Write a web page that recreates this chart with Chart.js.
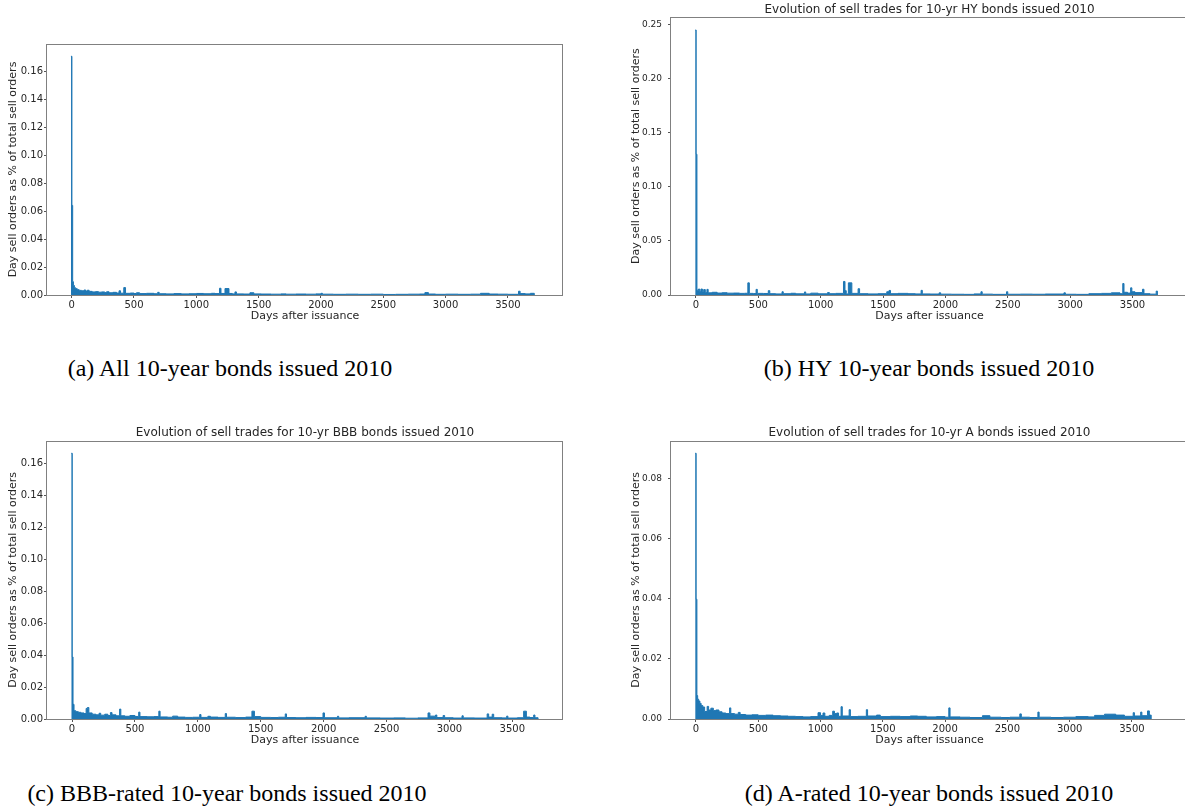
<!DOCTYPE html>
<html>
<head>
<meta charset="utf-8">
<title>Evolution of sell trades, 10-year bonds issued 2010</title>
<script src="https://cdn.jsdelivr.net/npm/chart.js@4/dist/chart.umd.min.js"></script>
<style>
  html, body { margin: 0; padding: 0; background: #fff; overflow: hidden; }
  #page { position: relative; width: 1185px; height: 812px; overflow: hidden; }
  canvas { position: absolute; }
  .caption {
    position: absolute; width: 500px; text-align: center;
    font-family: "Liberation Serif", "Times New Roman", serif; font-size: 24px; color: #000;
  }
</style>
</head>
<body>
<div id="page">
  <canvas id="chartAll" width="610" height="330" style="left:0px;top:0px"></canvas>
  <canvas id="chartHY" width="603" height="330" style="left:628px;top:0px"></canvas>
  <canvas id="chartBBB" width="610" height="334" style="left:0px;top:420px"></canvas>
  <canvas id="chartA" width="603" height="334" style="left:628px;top:420px"></canvas>

  <div class="caption" style="left:-20px;top:355px">(a) All 10-year bonds issued 2010</div>
  <div class="caption" style="left:679px;top:355px">(b) HY 10-year bonds issued 2010</div>
  <div class="caption" style="left:-23px;top:780px">(c) BBB-rated 10-year bonds issued 2010</div>
  <div class="caption" style="left:679px;top:780px">(d) A-rated 10-year bonds issued 2010</div>
</div>

<script>
// ejes compartidos
const xTicks = [0, 500, 1000, 1500, 2000, 2500, 3000, 3500];
const yTicksAll = [0, 0.02, 0.04, 0.06, 0.08, 0.10, 0.12, 0.14, 0.16];
const yTicksHY = [0, 0.05, 0.10, 0.15, 0.20, 0.25];
const yTicksBBB = [0, 0.02, 0.04, 0.06, 0.08, 0.10, 0.12, 0.14, 0.16];
const yTicksA = [0, 0.02, 0.04, 0.06, 0.08];

// (a) all 10-year bonds: day after issuance where each bar starts, share of sell orders
const allDays = [-6, 2, 8, 14, 22, 32, 45, 60, 80, 100, 112, 125, 140, 165, 190, 215, 240, 265, 280, 300,
  330, 360, 380, 392, 418, 432, 470, 500, 520, 545, 600, 660, 690, 702, 760, 820, 880, 940, 1000, 1060,
  1120, 1150, 1186, 1198, 1230, 1262, 1290, 1310, 1322, 1380, 1430, 1462, 1520, 1600, 1680, 1720, 1800, 1880, 1960, 2000,
  2012, 2100, 2200, 2300, 2400, 2500, 2600, 2700, 2790, 2834, 2862, 2920, 3000, 3100, 3200, 3280, 3350, 3420, 3500, 3585,
  3598, 3640, 3680, 3712];
const allShare = [0.1705, 0.064, 0.0095, 0.0068, 0.0052, 0.0045, 0.0038, 0.0033, 0.0030, 0.0036, 0.0028, 0.0034, 0.0026, 0.0022, 0.0024, 0.0020, 0.0022, 0.0017, 0.0023, 0.0016,
  0.0019, 0.0014, 0.0030, 0.0013, 0.0053, 0.0012, 0.0014, 0.0011, 0.0016, 0.0010, 0.0012, 0.0009, 0.0019, 0.0009, 0.0008, 0.0010, 0.0008, 0.0009, 0.0011, 0.0009,
  0.0012, 0.0010, 0.0048, 0.0011, 0.0046, 0.0011, 0.0008, 0.0022, 0.0008, 0.0007, 0.0016, 0.0008, 0.0007, 0.0006, 0.0008, 0.0006, 0.0007, 0.0006, 0.0008, 0.0012,
  0.0006, 0.0005, 0.0006, 0.0005, 0.0006, 0.0004, 0.0005, 0.0006, 0.0007, 0.0017, 0.0007, 0.0005, 0.0006, 0.0005, 0.0006, 0.0012, 0.0007, 0.0006, 0.0005, 0.0027,
  0.0010, 0.0008, 0.0012, 0];

// (b) high yield
const hyDays = [-6, 2, 8, 20, 30, 40, 52, 62, 75, 88, 98, 130, 170, 210, 250, 300, 350, 390, 416, 428,
  460, 482, 492, 540, 580, 592, 640, 690, 700, 760, 800, 870, 880, 920, 980, 1055, 1070, 1120, 1183, 1195,
  1205, 1222, 1250, 1300, 1312, 1380, 1460, 1530, 1548, 1560, 1620, 1700, 1760, 1805, 1815, 1880, 1950, 1962, 2050, 2150,
  2230, 2285, 2295, 2380, 2490, 2500, 2600, 2700, 2800, 2950, 2962, 3050, 3150, 3250, 3330, 3400, 3422, 3432, 3460, 3485,
  3495, 3520, 3580, 3592, 3640, 3690, 3700];
const hyShare = [0.2447, 0.130, 0.0045, 0.0055, 0.0035, 0.0055, 0.0030, 0.0050, 0.0022, 0.0052, 0.0020, 0.0025, 0.0018, 0.0021, 0.0017, 0.0018, 0.0015, 0.0016, 0.0112, 0.0015,
  0.0013, 0.0052, 0.0015, 0.0014, 0.0040, 0.0012, 0.0010, 0.0030, 0.0012, 0.0016, 0.0011, 0.0028, 0.0010, 0.0017, 0.0011, 0.0022, 0.0012, 0.0015, 0.0125, 0.0040,
  0.0010, 0.0112, 0.0015, 0.0058, 0.0012, 0.0010, 0.0012, 0.0030, 0.0042, 0.0012, 0.0015, 0.0012, 0.0010, 0.0043, 0.0010, 0.0009, 0.0020, 0.0008, 0.0007, 0.0006,
  0.0010, 0.0030, 0.0008, 0.0006, 0.0030, 0.0007, 0.0008, 0.0007, 0.0009, 0.0020, 0.0007, 0.0006, 0.0012, 0.0015, 0.0020, 0.0012, 0.0106, 0.0025, 0.0018, 0.0066,
  0.0030, 0.0022, 0.0053, 0.0012, 0.0008, 0.0036, 0];

// (c) BBB-rated
const bbbDays = [-6, 2, 8, 16, 30, 50, 70, 95, 112, 122, 134, 160, 190, 215, 228, 260, 285, 305, 318, 350,
  378, 388, 420, 460, 500, 530, 540, 600, 650, 690, 700, 760, 800, 840, 900, 960, 1015, 1025, 1080, 1100,
  1160, 1218, 1228, 1300, 1380, 1430, 1450, 1500, 1580, 1640, 1695, 1705, 1780, 1860, 1940, 1995, 2007, 2110, 2120, 2200,
  2330, 2340, 2450, 2560, 2650, 2750, 2830, 2845, 2890, 2900, 2950, 2962, 3030, 3100, 3110, 3200, 3300, 3312, 3340, 3352,
  3420, 3455, 3465, 3540, 3590, 3612, 3640, 3670, 3680, 3705];
const bbbShare = [0.1665, 0.0389, 0.0092, 0.0052, 0.0046, 0.0042, 0.0038, 0.0034, 0.0066, 0.0072, 0.0038, 0.0030, 0.0026, 0.0036, 0.0024, 0.0030, 0.0022, 0.0040, 0.0026, 0.0020,
  0.0062, 0.0020, 0.0017, 0.0022, 0.0016, 0.0043, 0.0015, 0.0014, 0.0015, 0.0049, 0.0013, 0.0011, 0.0018, 0.0012, 0.0010, 0.0011, 0.0028, 0.0010, 0.0017, 0.0012,
  0.0010, 0.0034, 0.0011, 0.0009, 0.0012, 0.0049, 0.0015, 0.0010, 0.0009, 0.0011, 0.0032, 0.0009, 0.0008, 0.0010, 0.0009, 0.0038, 0.0008, 0.0017, 0.0007, 0.0008,
  0.0017, 0.0007, 0.0006, 0.0007, 0.0005, 0.0007, 0.0038, 0.0018, 0.0025, 0.0009, 0.0022, 0.0008, 0.0006, 0.0020, 0.0007, 0.0006, 0.0032, 0.0012, 0.0030, 0.0008,
  0.0007, 0.0018, 0.0006, 0.0008, 0.0049, 0.0012, 0.0009, 0.0025, 0.0008, 0];

// (d) A-rated
const aDays = [-6, 2, 8, 14, 22, 32, 42, 55, 70, 90, 102, 120, 140, 160, 185, 210, 240, 270, 280, 310,
  340, 355, 400, 450, 500, 560, 620, 680, 740, 800, 860, 920, 980, 1000, 1020, 1035, 1070, 1098, 1112, 1130,
  1145, 1165, 1175, 1230, 1240, 1300, 1368, 1378, 1450, 1480, 1560, 1640, 1720, 1780, 1850, 1930, 2000, 2030, 2040, 2120,
  2200, 2300, 2360, 2450, 2520, 2600, 2612, 2680, 2745, 2755, 2850, 2950, 3050, 3150, 3200, 3280, 3370, 3440, 3510, 3520,
  3570, 3580, 3625, 3640, 3655];
const aShare = [0.0885, 0.0399, 0.0078, 0.0066, 0.0060, 0.0052, 0.0045, 0.0040, 0.0025, 0.0042, 0.0030, 0.0036, 0.0028, 0.0030, 0.0024, 0.0020, 0.0018, 0.0037, 0.0018, 0.0016,
  0.0022, 0.0015, 0.0013, 0.0014, 0.0012, 0.0013, 0.0011, 0.0010, 0.0009, 0.0008, 0.0007, 0.0008, 0.0021, 0.0012, 0.0020, 0.0009, 0.0012, 0.0026, 0.0018, 0.0020,
  0.0009, 0.0041, 0.0010, 0.0031, 0.0008, 0.0009, 0.0031, 0.0010, 0.0013, 0.0008, 0.0009, 0.0008, 0.0010, 0.0009, 0.0007, 0.0008, 0.0006, 0.0037, 0.0007, 0.0006,
  0.0005, 0.0011, 0.0006, 0.0005, 0.0006, 0.0017, 0.0006, 0.0005, 0.0023, 0.0006, 0.0005, 0.0006, 0.0008, 0.0007, 0.0012, 0.0016, 0.0013, 0.0009, 0.0021, 0.0010,
  0.0023, 0.0011, 0.0027, 0.0013, 0];

const BLUE = '#1f77b4';
const TEXT = '#262626';
const FONT = '"DejaVu Sans", sans-serif';

// marco completo alrededor del area (estilo matplotlib)
const spines = {
  id: 'spines',
  afterDatasetsDraw(chart) {
    const a = chart.chartArea;
    const ctx = chart.ctx;
    ctx.save();
    ctx.strokeStyle = '#808080';
    ctx.lineWidth = 1;
    ctx.strokeRect(Math.round(a.left) - 0.5, Math.round(a.top) + 0.5,
      Math.round(a.right) - Math.round(a.left), Math.round(a.bottom) - Math.round(a.top));
    ctx.restore();
  }
};

function buildChart(canvasId, days, share, yTicks, opt) {
  const points = days.map((d, i) => ({x: d, y: share[i]}));
  return new Chart(document.getElementById(canvasId), {
    type: 'line',
    data: {
      datasets: [{
        data: points,
        stepped: 'before',   // each value holds until the next day in the list
        fill: 'origin',
        borderColor: BLUE,
        backgroundColor: BLUE,
        borderWidth: 1,
        pointRadius: 0
      }]
    },
    options: {
      responsive: false,
      animation: false,
      layout: {padding: {top: opt.padTop, left: 0, right: 0, bottom: 0}},
      plugins: {
        legend: {display: false},
        tooltip: {enabled: false},
        title: {
          display: !!opt.title,
          text: opt.title || '',
          color: TEXT,
          font: {family: FONT, size: 12, weight: 'normal'},
          padding: {top: opt.titleTop || 0, bottom: opt.titleBottom || 0}
        }
      },
      scales: {
        x: {
          type: 'linear',
          min: opt.xMin,
          max: opt.xMax,
          afterBuildTicks: s => { s.ticks = xTicks.map(v => ({value: v})); },
          afterFit: s => { s.height = 35; },
          ticks: {
            autoSkip: false, maxRotation: 0, padding: 1,
            color: TEXT, font: {family: FONT, size: 10},
            callback: v => String(v)
          },
          grid: {drawOnChartArea: false, drawTicks: true, tickLength: 3, tickColor: '#555'},
          border: {display: false},
          title: {
            display: true, text: 'Days after issuance', color: TEXT,
            font: {family: FONT, size: 11}, padding: {top: 0, bottom: 7.4}
          }
        },
        y: {
          min: 0,
          max: opt.yMax,
          afterBuildTicks: s => { s.ticks = yTicks.map(v => ({value: v})); },
          afterFit: s => { s.width = opt.yWidth; },
          ticks: {
            padding: opt.tickPad, color: TEXT, font: {family: FONT, size: opt.tickSize},
            callback: v => v.toFixed(2)
          },
          grid: {drawOnChartArea: false, drawTicks: true, tickLength: 3, tickColor: '#555'},
          border: {display: false},
          title: {
            display: true, text: 'Day sell orders as % of total sell orders', color: TEXT,
            font: {family: FONT, size: 11}, padding: {top: opt.yTitlePad, bottom: 0}
          }
        },
        // eje vacio para centrar el titulo sobre el area
        yR: {
          position: 'right',
          display: true,
          afterFit: s => { s.width = opt.yWidth; },
          ticks: {display: false},
          grid: {display: false},
          border: {display: false}
        }
      }
    },
    plugins: [spines]
  });
}

buildChart('chartAll', allDays, allShare, yTicksAll,
  {padTop: 44, xMin: -198, xMax: 3942, yMax: 0.1793, yWidth: 47, tickPad: 1, tickSize: 10, yTitlePad: 6.7});

buildChart('chartHY', hyDays, hyShare, yTicksHY,
  {padTop: 0, title: 'Evolution of sell trades for 10-yr HY bonds issued 2010', titleTop: 2.8, titleBottom: 0.1,
   xMin: -200, xMax: 3945, yMax: 0.2565, yWidth: 43, tickPad: 6, tickSize: 9, yTitlePad: 1.4});

buildChart('chartBBB', bbbDays, bbbShare, yTicksBBB,
  {padTop: 0, title: 'Evolution of sell trades for 10-yr BBB bonds issued 2010', titleTop: 5.5, titleBottom: 0.8,
   xMin: -199, xMax: 3903, yMax: 0.1744, yWidth: 47, tickPad: 1, tickSize: 10, yTitlePad: 6.7});

buildChart('chartA', aDays, aShare, yTicksA,
  {padTop: 0, title: 'Evolution of sell trades for 10-yr A bonds issued 2010', titleTop: 5.5, titleBottom: 0.8,
   xMin: -200, xMax: 3950, yMax: 0.0927, yWidth: 43, tickPad: 6, tickSize: 9, yTitlePad: 1.4});
</script>
</body>
</html>
